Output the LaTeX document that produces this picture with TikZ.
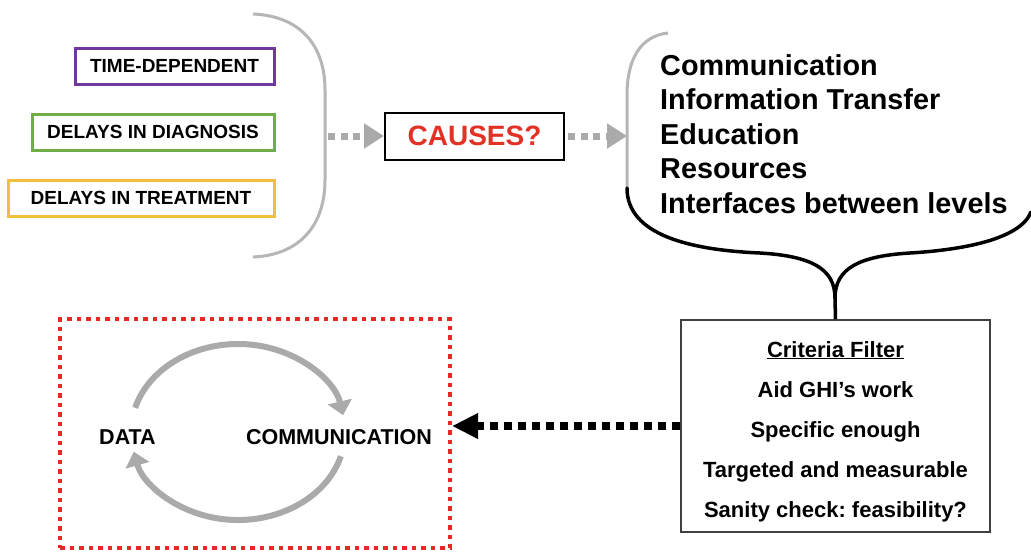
\documentclass[tikz,border=0pt]{standalone}
\usepackage{fontspec}
\setmainfont{Liberation Sans}
\usetikzlibrary{arrows.meta,calc}
\definecolor{cpurple}{RGB}{111,56,158}
\definecolor{cgreen}{RGB}{112,173,71}
\definecolor{cyellow}{RGB}{240,192,60}
\definecolor{cred}{RGB}{226,50,38}
\definecolor{cdot}{RGB}{232,40,35}
\definecolor{cgray}{RGB}{170,170,170}
\definecolor{cbr}{RGB}{182,182,182}
\frenchspacing
\begin{document}
\begin{tikzpicture}[x=1pt,y=-1pt,
  lbox/.style={draw, line width=3pt, minimum height=36pt, inner sep=0pt, font=\bfseries\fontsize{19}{22}\selectfont},
  listtext/.style={anchor=base west, inner sep=0pt, font=\bfseries\fontsize{28.8}{32}\selectfont},
  crittext/.style={anchor=base, inner sep=0pt, font=\bfseries\fontsize{22}{26}\selectfont},
  looptext/.style={anchor=base, inner sep=0pt, font=\bfseries\fontsize{21.5}{25}\selectfont},
  garrow/.style={line width=7pt, draw=cgray, dash pattern=on 7pt off 5.5pt, -{Triangle[length=20pt,width=24pt]}},
  barrow/.style={line width=8pt, draw=black, dash pattern=on 8pt off 6pt, -{Triangle[length=26pt,width=24pt]}},
  cyc/.style={line width=6pt, draw=cgray, -{Triangle[length=14pt,width=24pt]}},
  graybr/.style={line width=3pt, draw=cbr},
  blackbr/.style={line width=3.5pt, draw=black, line cap=round}
]
\fill[white] (0,0) rectangle (1031,552);
\useasboundingbox (0,0) rectangle (1031,552);

% left boxes
\node[lbox, draw=cpurple, minimum width=199pt] (td) at (174.5,66) {TIME-DEPENDENT};
\node[lbox, draw=cgreen, minimum width=242pt] (dd) at (153,132) {DELAYS IN DIAGNOSIS};
\node[lbox, draw=cyellow, minimum width=266pt] (dt) at (141,198) {DELAYS IN TREATMENT};

% left bracket
\draw[graybr] (253,14) .. controls (300,16) and (325,45) .. (325,90) -- (325,180) .. controls (325,225) and (300,255) .. (253,257);
\coordinate (lb) at (328,136);

% causes
\node[draw, line width=2pt, minimum width=179pt, minimum height=47pt, inner sep=0pt, text=cred, font=\bfseries\fontsize{28}{31}\selectfont] (causes) at (474.5,136) {CAUSES?};
\draw[garrow] (lb) -- (causes.west);
\coordinate (rb) at (627,136);
\draw[garrow] ([xshift=3pt]causes.east) -- (rb);

% right brace
\draw[graybr] (668,33) .. controls (640,36) and (627,60) .. (627,95) -- (627,188);
\coordinate (cusp) at (835,298);
\draw[blackbr] (627,188) .. controls (627,235) and (690,250) .. (760,253) .. controls (810,256) and (835,268) .. (cusp);
\draw[blackbr] (1031,212) .. controls (1020,240) and (960,250) .. (910,253) .. controls (860,256) and (835,268) .. (cusp);

% list
\node[listtext] (l1) at (660,75) {Communication};
\node[listtext] (l2) at (660,109.5) {Information Transfer};
\node[listtext] (l3) at (660,144) {Education};
\node[listtext] (l4) at (660,178.5) {Resources};
\node[listtext] (l5) at (660,213) {Interfaces between levels};

% criteria box
\node[draw=black!75, line width=1.5pt, minimum width=309pt, minimum height=212pt] (crit) at (835.5,426) {};
\draw[blackbr, line cap=butt] (cusp) -- (crit.north);
\node[crittext] (c0) at (835.5,357) {\underline{Criteria Filter}};
\node[crittext] (c1) at (835.5,397) {Aid GHI’s work};
\node[crittext] (c2) at (835.5,437) {Specific enough};
\node[crittext] (c3) at (835.5,477) {Targeted and measurable};
\node[crittext] (c4) at (835.5,517) {Sanity check: feasibility?};

% loop box
\node[draw=cdot, line width=4pt, dash pattern=on 4.5pt off 5pt, minimum width=390pt, minimum height=229pt] (loop) at (255,433.5) {};
\draw[barrow] (crit.west) -- (crit.west -| loop.east);

\node[looptext] (data) at (127.5,444) {DATA};
\node[looptext] (comm) at (339,444) {COMMUNICATION};
\coordinate (cc) at (238,432);
\draw[cyc] (cc) ++(196:107 and 88) arc[start angle=196, end angle=349, x radius=107, y radius=88];
\draw[cyc] (cc) ++(16:107 and 88) arc[start angle=16, end angle=167, x radius=107, y radius=88];
\end{tikzpicture}
\end{document}
